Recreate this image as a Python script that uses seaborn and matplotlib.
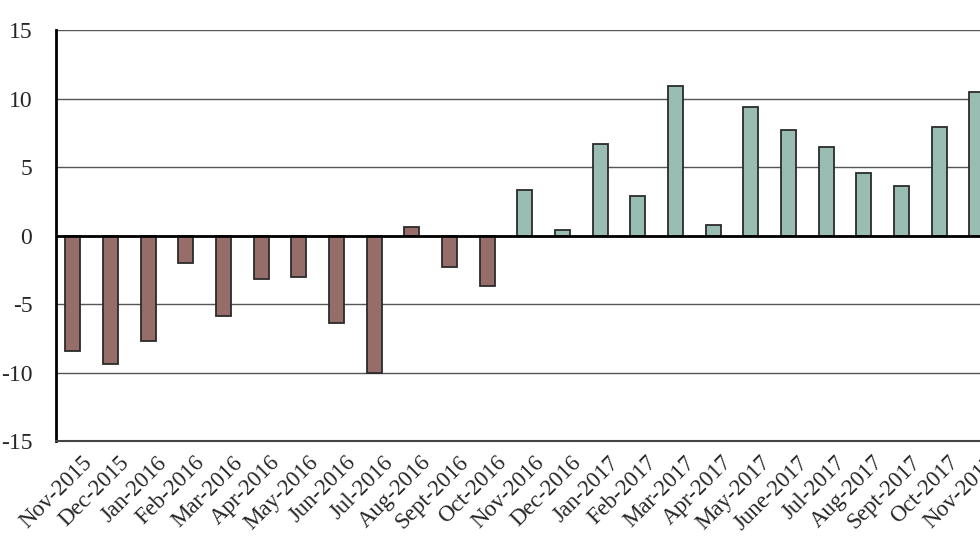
import pandas as pd
import matplotlib
matplotlib.use("Agg")
import matplotlib.pyplot as plt
import matplotlib.transforms as mtransforms
import seaborn as sns

months = ["Nov-2015", "Dec-2015", "Jan-2016", "Feb-2016", "Mar-2016", "Apr-2016",
          "May-2016", "Jun-2016", "Jul-2016", "Aug-2016", "Sept-2016", "Oct-2016",
          "Nov-2016", "Dec-2016", "Jan-2017", "Feb-2017", "Mar-2017", "Apr-2017",
          "May-2017", "June-2017", "Jul-2017", "Aug-2017", "Sept-2017", "Oct-2017",
          "Nov-2017"]
values = [-8.4, -9.4, -7.7, -2.0, -5.85, -3.15, -3.0, -6.35, -10.0, 0.65, -2.3, -3.65,
          3.3, 0.4, 6.7, 2.9, 10.9, 0.8, 9.35, 7.7, 6.45, 4.6, 3.65, 7.9, 10.5]
# first 12 months brown, the rest teal
period = ["early"] * 12 + ["late"] * 13
y_ticks = [-15, -10, -5, 0, 5, 10, 15]

df = pd.DataFrame({"month": months, "value": values, "period": period})

sns.set_style("white")
plt.rcParams["font.family"] = ["Liberation Serif", "DejaVu Serif"]

fig = plt.figure(figsize=(9.8, 5.52), dpi=100)
ax = fig.add_axes([0.0571, 0.201, 0.957, 0.7446])

sns.barplot(data=df, x="month", y="value", hue="period",
            palette={"early": "#9E6662", "late": "#93C2B6"},
            dodge=False, width=0.4, edgecolor="#2b2b2b", linewidth=1.3,
            legend=False, ax=ax, zorder=3)

ax.set_ylim(-15, 15)
ax.set_xlim(-0.45, 24.45)
ax.set_yticks(y_ticks)
ax.set_yticklabels([str(t) for t in y_ticks], fontsize=17)
ax.yaxis.grid(True, color="#555555", linewidth=1.0, zorder=0)
ax.set_axisbelow(True)
ax.axhline(0, color="black", linewidth=2, zorder=4)

ax.set_xlabel("")
ax.set_ylabel("")
ax.tick_params(axis="y", length=0, pad=17)
ax.tick_params(axis="x", length=0, pad=8)
ax.set_xticks(range(len(months)))
ax.set_xticklabels(months, rotation=45, ha="right", rotation_mode="anchor",
                   fontsize=16.5)
shift = mtransforms.ScaledTranslation(6 / 72, 0, fig.dpi_scale_trans)
for lbl in ax.get_xticklabels():
    lbl.set_transform(lbl.get_transform() + shift)

for side in ["top", "right"]:
    ax.spines[side].set_visible(False)
ax.spines["left"].set_linewidth(2)
ax.spines["left"].set_color("black")
ax.spines["bottom"].set_linewidth(1.5)
ax.spines["bottom"].set_color("#444444")

fig.savefig("out.png", dpi=100)
